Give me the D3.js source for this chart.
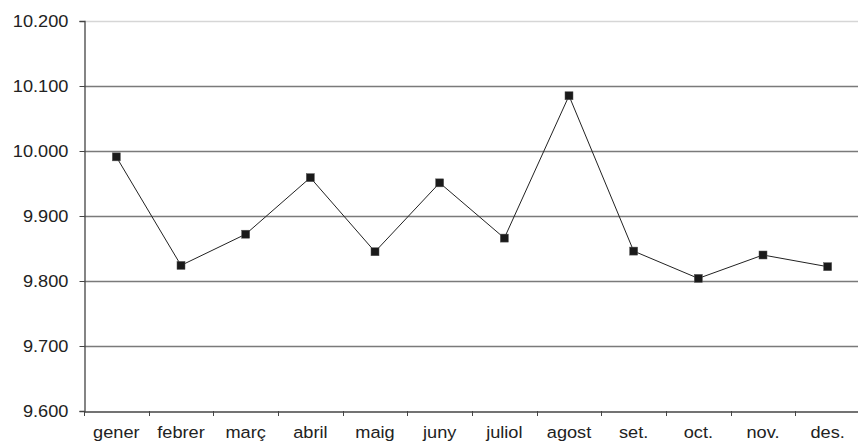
<!DOCTYPE html>
<html>
<head>
<meta charset="utf-8">
<script src="https://cdn.jsdelivr.net/npm/d3@7"></script>
<style>
  body { margin: 0; background: #fff; }
  text { font-family: "Liberation Sans", Arial, sans-serif; fill: #222; }
</style>
</head>
<body>
<script>
var months = ["gener", "febrer", "març", "abril", "maig", "juny",
              "juliol", "agost", "set.", "oct.", "nov.", "des."];
var values = [9991, 9824, 9872, 9959, 9845, 9951,
              9866, 10085, 9846, 9804, 9840, 9822];
var yTicks = [9600, 9700, 9800, 9900, 10000, 10100, 10200];

chart();

function chart()
{
        var width = 858,
                height = 441;
        var left = 84, right = 860, top = 21, bottom = 411;

        var svg = d3.select("body").append("svg")
                .attr("width", width)
                .attr("height", height);

        var xScale = d3.scaleBand()
                .domain(months)
                .range([left, right]);
        var yScale = d3.scaleLinear()
                .domain([9600, 10200])
                .range([bottom, top]);

        var fmt = function (d) {
                return d3.format(",.3f")(d / 1000).replace(",", "");
        };

        // gridlines
        svg.append("g")
                .selectAll("line")
                .data(yTicks.slice(1))
                .enter()
                .append("line")
                .attr("x1", left)
                .attr("x2", width)
                .attr("y1", function (d) { return Math.round(yScale(d)) + 0.5; })
                .attr("y2", function (d) { return Math.round(yScale(d)) + 0.5; })
                .attr("stroke", function (d) { return d == 10200 ? "#d6d6d6" : "#7a7a7a"; })
                .attr("stroke-width", 1.5);

        // y axis
        var yAxis = d3.axisLeft(yScale)
                .tickValues(yTicks)
                .tickSize(5)
                .tickPadding(10)
                .tickFormat(fmt);
        var gy = svg.append("g")
                .attr("transform", "translate(" + (left + 0.5) + ",0)")
                .call(yAxis);
        gy.select(".domain").attr("stroke", "#444").attr("stroke-width", 1.3);
        gy.selectAll(".tick line").attr("stroke", "#444");
        gy.selectAll(".tick text")
                .style("font-size", "17px")
                .attr("transform", "scale(1.07,1)")
                .attr("fill", "#222");

        // x axis
        var xAxis = d3.axisBottom(xScale)
                .tickSize(0)
                .tickPadding(14);
        var gx = svg.append("g")
                .attr("transform", "translate(0," + (bottom + 0.5) + ")")
                .call(xAxis);
        gx.select(".domain").attr("stroke", "#444").attr("stroke-width", 1.3);
        gx.selectAll(".tick text")
                .style("font-size", "17px")
                .attr("transform", "scale(1.07,1)")
                .attr("fill", "#222");

        // category boundary ticks
        svg.append("g")
                .selectAll("line")
                .data(months)
                .enter()
                .append("line")
                .attr("x1", function (d) { return Math.round(xScale(d)) + 0.5; })
                .attr("x2", function (d) { return Math.round(xScale(d)) + 0.5; })
                .attr("y1", bottom)
                .attr("y2", bottom + 5)
                .attr("stroke", "#444");

        var cx = function (d, i) { return xScale(months[i]) + xScale.bandwidth() / 2; };

        var line = d3.line()
                .x(cx)
                .y(function (d) { return yScale(d); });

        svg.append("path")
                .datum(values)
                .attr("d", line)
                .attr("fill", "none")
                .attr("stroke", "#222")
                .attr("stroke-width", 1);

        svg.selectAll(".dot")
                .data(values)
                .enter()
                .append("rect")
                .attr("class", "dot")
                .attr("x", function (d, i) { return cx(d, i) - 4; })
                .attr("y", function (d) { return yScale(d) - 4; })
                .attr("width", 8)
                .attr("height", 8)
                .attr("fill", "#1a1a1a")
                .attr("stroke", "#555")
                .attr("stroke-width", 0.5);
}
</script>
</body>
</html>
